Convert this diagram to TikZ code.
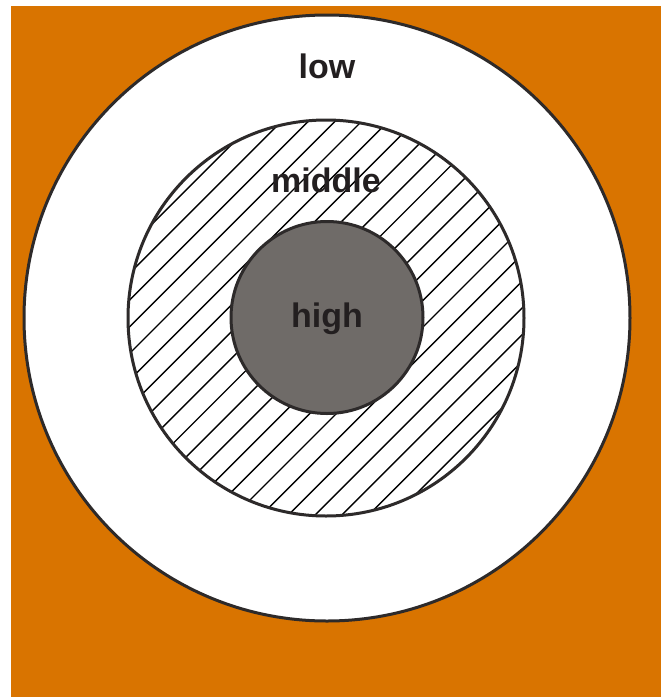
\documentclass[tikz,border=0pt]{standalone}
\usepackage{fontspec}
\setmainfont{Liberation Sans}
\definecolor{bgorange}{RGB}{217,116,0}
\definecolor{coregray}{RGB}{111,107,104}
\definecolor{ringline}{RGB}{45,42,42}
\definecolor{labeltext}{RGB}{35,31,32}
\tikzset{
  ring/.style={draw=ringline, line width=3pt},
  hatchline/.style={draw=black, line width=1.4pt},
  lbl/.style={anchor=base, text=labeltext, font=\fontsize{34}{34}\selectfont\bfseries, inner sep=0pt}
}
\begin{document}
\begin{tikzpicture}[x=1pt,y=-1pt]
\useasboundingbox (0,0) rectangle (667,697);
\fill[white] (0,0) rectangle (667,697);
\fill[bgorange] (11,6) rectangle (661,697);
% outer ring
\coordinate (c) at (327,318);
\fill[white] (c) circle[radius=303];
\draw[ring] (c) circle[radius=303];
% middle hatched ring
\fill[white] (326,318) circle[radius=198];
\begin{scope}
  \clip (326,318) circle[radius=198];
  \foreach \k in {-5,...,19} {
    \pgfmathsetmacro{\cc}{456.3+26.7*\k}
    \draw[hatchline] ({\cc-90},90) -- ({\cc-550},550);
  }
\end{scope}
\draw[ring] (326,318) circle[radius=198];
% inner core
\fill[coregray] (327,317.5) circle[radius=96];
\draw[ring] (327,317.5) circle[radius=96];
% labels
\node[lbl] (low) at (327,78) {low};
\node[lbl] (middle) at (326,192) {middle};
\node[lbl] (high) at (327,327) {high};
\end{tikzpicture}
\end{document}
